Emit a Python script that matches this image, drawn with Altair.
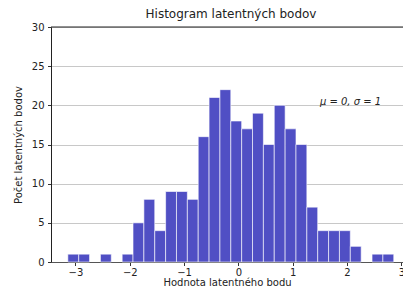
import altair as alt
import pandas as pd

bin_start = [-3.14, -2.94, -2.74, -2.54, -2.34, -2.14, -1.94, -1.74, -1.54, -1.34,
             -1.14, -0.94, -0.74, -0.54, -0.34, -0.14, 0.06, 0.26, 0.46, 0.66,
             0.86, 1.06, 1.26, 1.46, 1.66, 1.86, 2.06, 2.26, 2.46, 2.66]
bin_end = [-2.94, -2.74, -2.54, -2.34, -2.14, -1.94, -1.74, -1.54, -1.34, -1.14,
           -0.94, -0.74, -0.54, -0.34, -0.14, 0.06, 0.26, 0.46, 0.66, 0.86,
           1.06, 1.26, 1.46, 1.66, 1.86, 2.06, 2.26, 2.46, 2.66, 2.86]
counts = [1, 1, 0, 1, 0, 1, 5, 8, 4, 9,
          9, 8, 16, 21, 22, 18, 17, 19, 15, 20,
          17, 15, 7, 4, 4, 4, 2, 0, 1, 1]
x_ticks = [-3, -2, -1, 0, 1, 2, 3]
y_ticks = [0, 5, 10, 15, 20, 25, 30]

df = pd.DataFrame({"start": bin_start, "end": bin_end, "count": counts})
df = df[df["count"] > 0]
df["zero"] = 0

FONT = "DejaVu Sans"
W, H = 352, 235

xscale = alt.Scale(domain=[-3.45, 3.03], nice=False, zero=False)
yscale = alt.Scale(domain=[0, 30], nice=False)

xaxis = alt.Axis(values=x_ticks, format="d", title="Hodnota latentného bodu",
                 grid=False, labelFont=FONT, labelFontSize=10, labelColor="#222",
                 titleFont=FONT, titleFontSize=10, titleFontWeight="normal",
                 titleColor="#222", tickSize=3.5, tickColor="#333",
                 domainColor="#555", labelPadding=2, titlePadding=0)
yaxis = alt.Axis(values=y_ticks, title="Počet latentných bodov", grid=True,
                 gridColor="#c8c8c8", labelFont=FONT, labelFontSize=10,
                 labelColor="#222", titleFont=FONT, titleFontSize=10,
                 titleFontWeight="normal", titleColor="#222", tickSize=3.5,
                 tickColor="#333", domainColor="#222", labelPadding=3.5,
                 titlePadding=8)

bars = alt.Chart(df).mark_bar(
    color="#504FC4", stroke="white", strokeOpacity=0.6, strokeWidth=1
).encode(
    x=alt.X("start:Q", scale=xscale, axis=xaxis),
    x2="end:Q",
    y=alt.Y("count:Q", scale=yscale, axis=yaxis),
    y2="zero:Q",
)

ann = alt.Chart(pd.DataFrame({"x": [1.5], "y": [20], "t": ["μ = 0, σ = 1"]})).mark_text(
    align="left", baseline="alphabetic", font=FONT, fontSize=10, color="#222", fontStyle="italic"
).encode(x=alt.X("x:Q", scale=xscale, axis=xaxis), y=alt.Y("y:Q", scale=yscale, axis=yaxis),
         text="t:N")

top = alt.Chart(pd.DataFrame({"a": [0]})).mark_rule(color="#222", strokeWidth=1).encode(
    x=alt.value(0), x2=alt.value(W), y=alt.value(0)
)

chart = alt.layer(bars, ann, top).properties(
    width=W, height=H,
    title=alt.TitleParams("Histogram latentných bodov", font=FONT, fontSize=12,
                          fontWeight="normal", color="#222", offset=1, dx=4),
    autosize=alt.AutoSizeParams(type="none"),
    padding={"left": 43, "top": 19, "right": 0, "bottom": 27},
).configure_view(stroke=None)

chart.save("out.html", embed_options={"renderer": "svg", "actions": False})
